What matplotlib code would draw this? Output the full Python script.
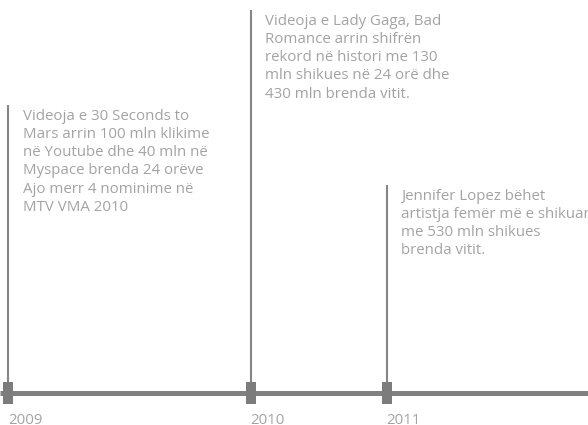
import matplotlib.pyplot as plt
from matplotlib.patches import Rectangle

# timeline events (positions along the axis, in pixel-like units of the 588x425 canvas)
years = ['2009', '2010', '2011']
event_x = [8, 250.5, 386.5]
stem_top = [105, 10, 185]
notes = [
    "Videoja e 30 Seconds to\nMars arrin 100 mln klikime\nnë Youtube dhe 40 mln në\n"
    "Myspace brenda 24 orëve\nAjo merr 4 nominime në\nMTV VMA 2010",
    "Videoja e Lady Gaga, Bad\nRomance arrin shifrën\nrekord në histori me 130\n"
    "mln shikues në 24 orë dhe\n430 mln brenda vitit.",
    "Jennifer Lopez bëhet\nartistja femër më e shikuar\nme 530 mln shikues\nbrenda vitit.",
]

W, H = 588, 425
AXIS_Y = 393.3
LINE_C = '#808080'
TEXT_C = '#a3a3a3'
FONT = ['Open Sans', 'DejaVu Sans']
FS = 10.8
LINE_GAP = 18.3

fig = plt.figure(figsize=(W / 100, H / 100), dpi=100)
ax = fig.add_axes([0, 0, 1, 1])
ax.set_xlim(0, W)
ax.set_ylim(H, 0)
ax.axis('off')

ax.plot([0, W], [AXIS_Y, AXIS_Y], color=LINE_C, lw=3.6, solid_capstyle='butt', zorder=1)

for x, top, note, yr in zip(event_x, stem_top, notes, years):
    ax.plot([x, x], [top, AXIS_Y], color='#858585', lw=1.5, solid_capstyle='butt', zorder=2)
    ax.add_patch(Rectangle((x - 5, AXIS_Y - 11), 10, 22, color='#7c7c7c', lw=0, zorder=3))
    for i, line in enumerate(note.split('\n')):
        ax.text(x + 14.7, top + 14.5 + i * LINE_GAP, line, color=TEXT_C, fontsize=FS,
                family=FONT, ha='left', va='baseline')
    ax.text(x, 423.5, yr, color=TEXT_C, fontsize=FS, family=FONT, ha='left', va='baseline')

fig.savefig('out.png', dpi=100)
